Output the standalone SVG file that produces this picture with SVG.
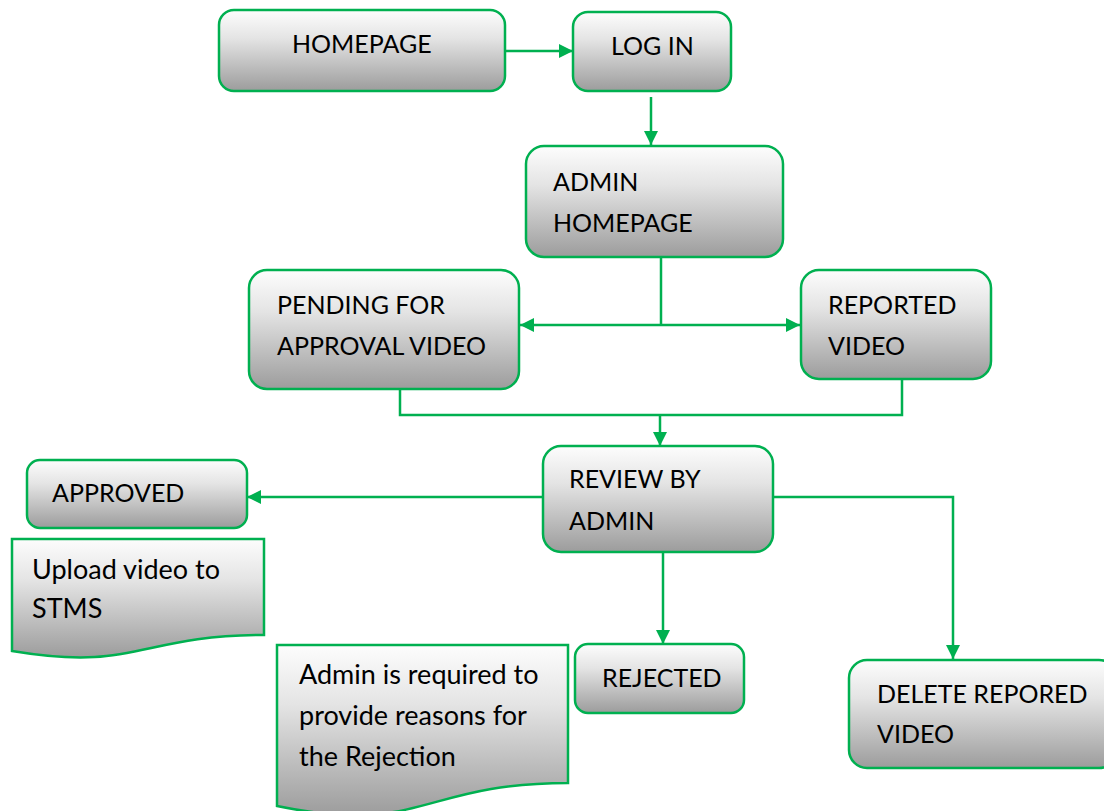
<svg xmlns="http://www.w3.org/2000/svg" width="1104" height="811" viewBox="0 0 1104 811">
  <defs>
    <linearGradient id="fill" x1="0" y1="0" x2="0" y2="1">
      <stop offset="0" stop-color="#fdfdfd"/>
      <stop offset="0.35" stop-color="#e4e4e4"/>
      <stop offset="1" stop-color="#9c9c9c"/>
    </linearGradient>
    <marker id="arrow" viewBox="0 0 14 14" refX="14" refY="7" markerWidth="14" markerHeight="14" markerUnits="userSpaceOnUse" orient="auto-start-reverse">
      <path d="M0,0 L14,7 L0,14 Z" fill="#00b050"/>
    </marker>
  </defs>
  <style>
    .box { fill: url(#fill); stroke: #00b050; stroke-width: 2.5; }
    .lbl { font-family: Lato, "Liberation Sans", sans-serif; font-size: 25px; fill: #000; }
    .note { font-size: 27px; }
    .conn { fill: none; stroke: #00b050; stroke-width: 2.5; }
  </style>
  <rect width="1104" height="811" fill="#fff"/>

  <!-- connectors -->
  <g id="connectors">
    <path class="conn" d="M505,51 L573,51" marker-end="url(#arrow)"/>
    <path class="conn" d="M651,97 L651,145" marker-end="url(#arrow)"/>
    <path class="conn" d="M661,257 L661,325"/>
    <path class="conn" d="M520,325 L800,325" marker-start="url(#arrow)" marker-end="url(#arrow)"/>
    <path class="conn" d="M400,389 L400,415 L902,415 L902,379"/>
    <path class="conn" d="M660,415 L660,446" marker-end="url(#arrow)"/>
    <path class="conn" d="M543,497 L247,497" marker-end="url(#arrow)"/>
    <path class="conn" d="M663,552 L663,644" marker-end="url(#arrow)"/>
    <path class="conn" d="M773,497 L953,497 L953,659" marker-end="url(#arrow)"/>
  </g>

  <g id="homepage">
    <rect class="box" x="219" y="10" width="286" height="81" rx="15"/>
    <text class="lbl" x="292" y="53">HOMEPAGE</text>
  </g>
  <g id="login">
    <rect class="box" x="573" y="12" width="158" height="79" rx="15"/>
    <text class="lbl" x="611" y="55">LOG IN</text>
  </g>
  <g id="admin-homepage">
    <rect class="box" x="526" y="146" width="257" height="111" rx="18"/>
    <text class="lbl" x="553" y="191">ADMIN</text>
    <text class="lbl" x="553" y="232">HOMEPAGE</text>
  </g>
  <g id="pending">
    <rect class="box" x="249" y="270" width="270" height="119" rx="18"/>
    <text class="lbl" x="277" y="314">PENDING FOR</text>
    <text class="lbl" x="277" y="355">APPROVAL VIDEO</text>
  </g>
  <g id="reported">
    <rect class="box" x="801" y="270" width="190" height="109" rx="18"/>
    <text class="lbl" x="828" y="314">REPORTED</text>
    <text class="lbl" x="828" y="355">VIDEO</text>
  </g>
  <g id="review">
    <rect class="box" x="543" y="446" width="230" height="106" rx="18"/>
    <text class="lbl" x="569" y="488">REVIEW BY</text>
    <text class="lbl" x="569" y="530">ADMIN</text>
  </g>
  <g id="approved">
    <rect class="box" x="27" y="460" width="220" height="68" rx="13"/>
    <text class="lbl" x="52" y="502">APPROVED</text>
  </g>
  <g id="upload-note">
    <path class="box" d="M12,539 L264,539 L264,635 C138,635 138,672 12,651 Z"/>
    <text class="lbl note" x="32" y="579">Upload video to</text>
    <text class="lbl note" x="32" y="618">STMS</text>
  </g>
  <g id="rejected">
    <rect class="box" x="575" y="644" width="169" height="69" rx="13"/>
    <text class="lbl" x="602" y="687">REJECTED</text>
  </g>
  <g id="rejection-note">
    <path class="box" d="M277,645 L568,645 L568,783 C422,783 422,836 277,806 Z"/>
    <text class="lbl note" x="299" y="684">Admin is required to</text>
    <text class="lbl note" x="299" y="725">provide reasons for</text>
    <text class="lbl note" x="299" y="766">the Rejection</text>
  </g>
  <g id="delete">
    <rect class="box" x="849" y="660" width="268" height="108" rx="18"/>
    <text class="lbl" x="877" y="703">DELETE REPORED</text>
    <text class="lbl" x="877" y="743">VIDEO</text>
  </g>
</svg>
